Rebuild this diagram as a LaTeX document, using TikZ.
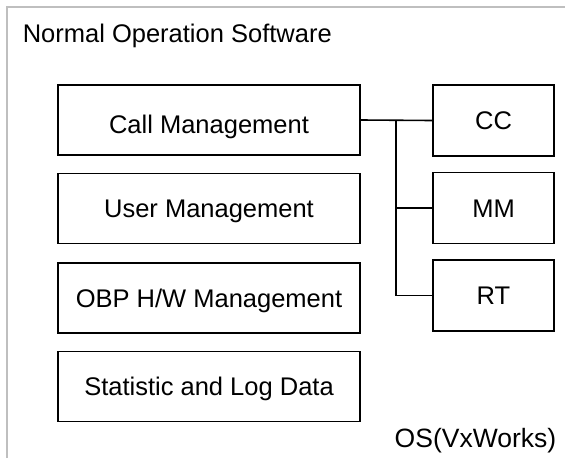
\documentclass[tikz,border=0pt]{standalone}
\usepackage{fontspec}
\setmainfont{Liberation Sans}
\usetikzlibrary{positioning}
\begin{document}
\begin{tikzpicture}[x=1pt, y=-1pt, line width=1.6pt]
  \tikzstyle{M}=[draw, minimum width=302pt, minimum height=70pt, inner sep=0pt, text height=18.2pt, text depth=0pt, font=\fontsize{25.5}{30}\selectfont]
  \tikzstyle{S}=[draw, minimum width=121pt, minimum height=71pt, inner sep=0pt, text height=18.2pt, text depth=0pt, font=\fontsize{25.5}{30}\selectfont]
  \tikzstyle{T}=[inner sep=0pt, font=\fontsize{25.5}{30}\selectfont]

  \useasboundingbox (0,0) rectangle (565,458);
  \draw[gray!50, line width=1.2pt] (7,458) -- (7,7) -- (565,7);

  \node[T, anchor=base west] at (22,42) (title) {Normal Operation Software};

  \node[M, text height=26.2pt] at (209,120) (callm) {Call Management};
  \node[M] at (209,208.5) (userm) {User Management};
  \node[M] at (209,298) (obpm) {OBP H/W Management};
  \node[M] at (209,386.5) (stat) {Statistic and Log Data};

  \node[S] at (493.5,120.5) (CC) {CC};
  \node[S] at (493.5,208) (MM) {MM};
  \node[S] at (493.5,295.5) (RT) {RT};

  \coordinate (bus) at (396,0);
  \draw (callm.east) -- (CC.west);
  \draw (bus |- callm.east) |- (MM.west);
  \draw (bus |- callm.east) |- (RT.west);

  \node[T, anchor=base east, font=\fontsize{26.5}{31}\selectfont] at (557,447) (os) {OS(VxWorks)};
\end{tikzpicture}
\end{document}
